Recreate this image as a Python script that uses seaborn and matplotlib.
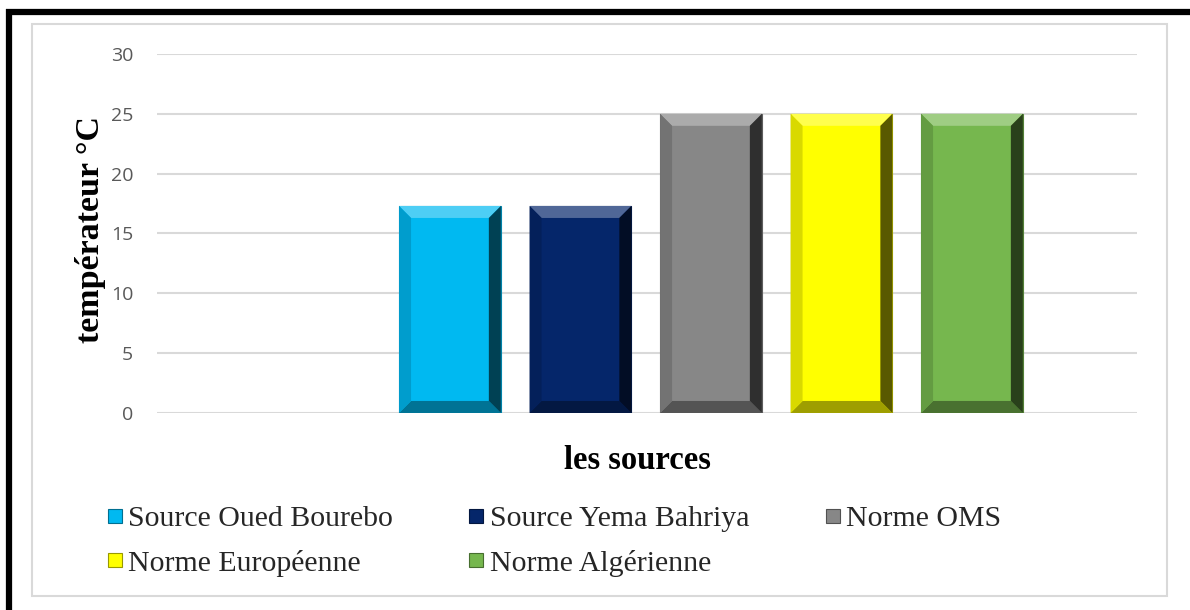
import matplotlib
matplotlib.use("Agg")
import matplotlib.pyplot as plt
import matplotlib.colors as mcolors
from matplotlib.patches import Polygon, Rectangle
from matplotlib.lines import Line2D
import seaborn as sns
import pandas as pd

series = ["Source Oued Bourebo", "Source Yema Bahriya", "Norme OMS",
          "Norme Européenne", "Norme Algérienne"]
values = [17.3, 17.3, 25, 25, 25]
colors = ["#00B9F1", "#05266A", "#878787", "#FFFF00", "#76B74E"]
yticks = [0, 5, 10, 15, 20, 25, 30]

sns.set_theme(style="white")
plt.rcParams['font.family'] = ['Liberation Serif', 'DejaVu Serif']

fig = plt.figure(figsize=(11.9, 6.1), dpi=100)
ax = fig.add_axes([0.1319, 0.3230, 0.8235, 0.5885])

df = pd.DataFrame({"serie": series, "val": values})
sns.barplot(data=df, x="serie", y="val", hue="serie", palette=colors,
            width=0.78, dodge=False, legend=False, ax=ax, saturation=1,
            linewidth=0)

ax.set_xlim(-2.245, 5.264)
ax.set_ylim(0, 30)
ax.set_yticks(yticks)
ax.set_yticklabels([str(t) for t in yticks], family="Open Sans", fontsize=14,
                   color="#595959")
ax.tick_params(axis="y", length=0, pad=17)
ax.set_xticks([])
for s in ax.spines.values():
    s.set_visible(False)
ax.yaxis.grid(True, color="#D9D9D9", linewidth=1.5)
ax.set_axisbelow(True)

ax.set_xlabel("les sources", fontsize=23.5, fontweight="bold", color="black")
ax.xaxis.set_label_coords(0.49, -0.09)
ax.set_ylabel("températeur °C", fontsize=24.5, fontweight="bold", color="black")
ax.yaxis.set_label_coords(-0.052, 0.51)

# bevel shading derived from bar geometry
fig.canvas.draw()
inv = ax.transData.inverted()
p0 = inv.transform((0, 0))
p1 = inv.transform((12, 12))
bx = p1[0] - p0[0]
by = p1[1] - p0[1]


def shade(c, f):
    r, g, b = mcolors.to_rgb(c)
    if f >= 1:
        t = f - 1
        return (r + (1 - r) * t, g + (1 - g) * t, b + (1 - b) * t)
    return (r * f, g * f, b * f)


for patch, c in zip(ax.patches, colors):
    x0 = patch.get_x()
    w = patch.get_width()
    h = patch.get_height()
    x1 = x0 + w
    top = [(x0, h), (x1, h), (x1 - bx, h - by), (x0 + bx, h - by)]
    bot = [(x0, 0), (x1, 0), (x1 - bx, by), (x0 + bx, by)]
    left = [(x0, 0), (x0, h), (x0 + bx, h - by), (x0 + bx, by)]
    right = [(x1, 0), (x1, h), (x1 - bx, h - by), (x1 - bx, by)]
    ax.add_patch(Polygon(top, closed=True, facecolor=shade(c, 1.3), edgecolor="none", zorder=3))
    ax.add_patch(Polygon(bot, closed=True, facecolor=shade(c, 0.62), edgecolor="none", zorder=3))
    ax.add_patch(Polygon(left, closed=True, facecolor=shade(c, 0.85), edgecolor="none", zorder=3))
    ax.add_patch(Polygon(right, closed=True, facecolor=shade(c, 0.35), edgecolor="none", zorder=3))
    patch.set_edgecolor(shade(c, 0.7))
    patch.set_linewidth(0.8)

# legend (row-major layout)
handles = [Line2D([0], [0], marker="s", linestyle="none", markersize=10,
                  markerfacecolor=c, markeredgecolor=shade(c, 0.6), markeredgewidth=0.8)
           for c in colors]
order = [0, 3, 1, 4, 2]
leg = fig.legend([handles[i] for i in order], [series[i] for i in order],
                 ncol=3, loc="upper left", bbox_to_anchor=(0.0900, 0.172),
                 frameon=False, prop={"family": "Liberation Serif", "size": 21.5},
                 handlelength=0.5, handletextpad=0.2, columnspacing=2.55,
                 labelspacing=0.6, borderaxespad=0, borderpad=0)

# inner gray frame and outer black borders
fig.patches.append(Rectangle((32 / 1190, 1 - 596 / 610), (1167 - 32) / 1190,
                             (596 - 24) / 610, transform=fig.transFigure,
                             fill=False, edgecolor="#D9D9D9", linewidth=1.5))
fig.lines.append(Line2D([6 / 1190, 1], [1 - 12 / 610, 1 - 12 / 610],
                        transform=fig.transFigure, color="black", linewidth=4.5,
                        solid_capstyle="butt"))
fig.lines.append(Line2D([9 / 1190, 9 / 1190], [0, 1 - 9 / 610],
                        transform=fig.transFigure, color="black", linewidth=4.5,
                        solid_capstyle="butt"))

fig.savefig("out.png", dpi=100, facecolor="white")
